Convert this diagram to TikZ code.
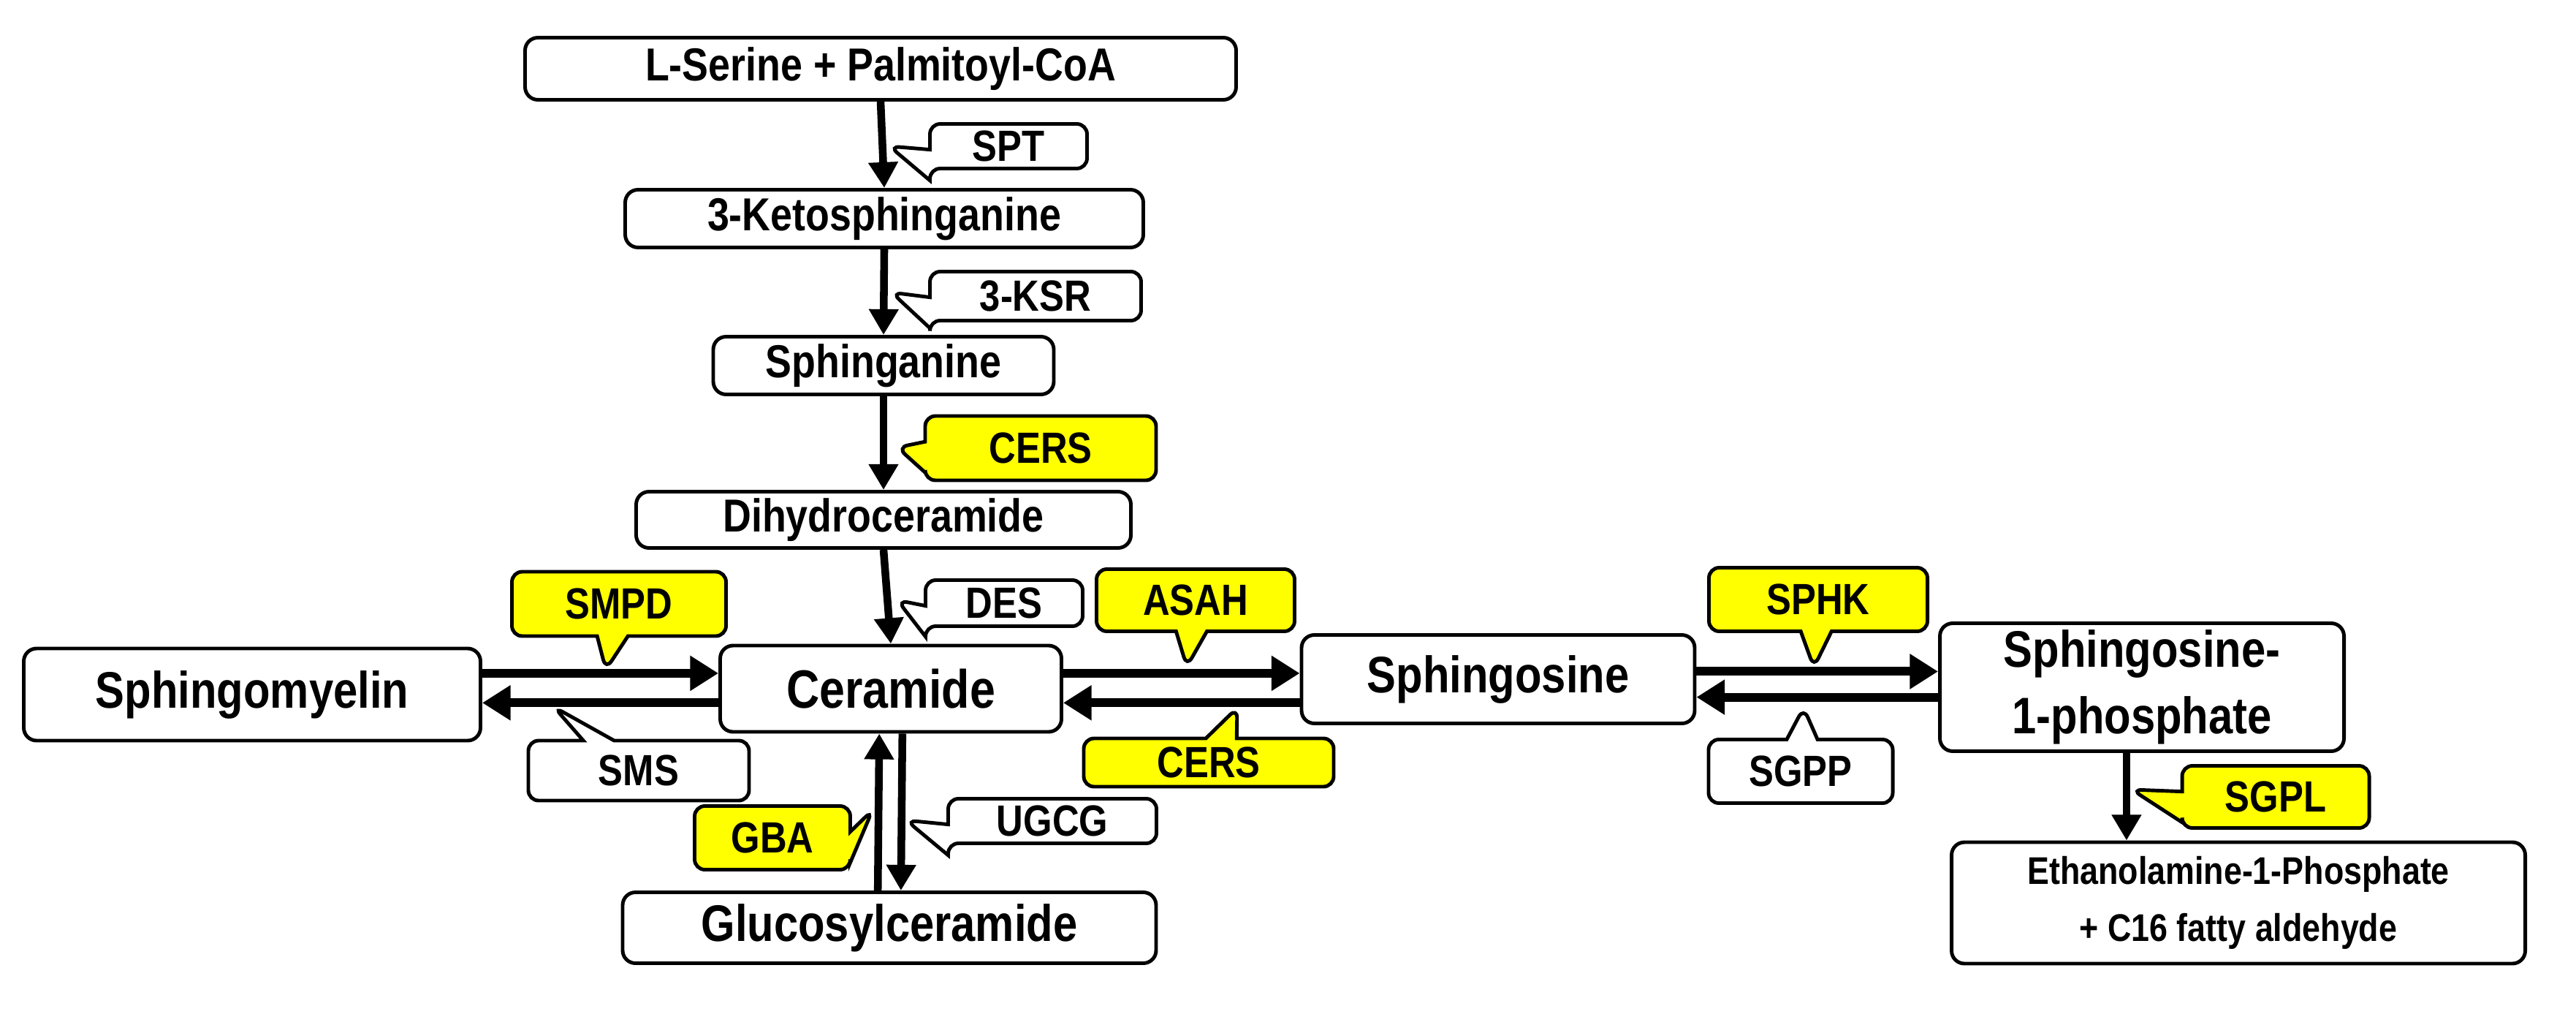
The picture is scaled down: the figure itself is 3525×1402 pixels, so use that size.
\documentclass[tikz,border=0pt]{standalone}
\usepackage{fontspec}
\setmainfont{Liberation Sans}[FakeStretch=0.85]
\usetikzlibrary{shapes.callouts,arrows.meta}
\definecolor{yel}{RGB}{255,255,0}
\begin{document}
\begin{tikzpicture}[x=0.1mm,y=-0.1mm,
  box/.style n args={2}{draw,line width=1.4pt,rounded corners=5pt,fill=white,inner sep=0pt,align=center,
     minimum width=#1*0.1mm,minimum height=#2*0.1mm,font=\bfseries\fontsize{18}{24}\selectfont},
  big/.style={font=\bfseries\fontsize{21}{25}\selectfont},
  enz/.style n args={3}{rectangle callout,draw,line width=1.4pt,rounded corners=4pt,fill=white,inner sep=0pt,
     minimum width=#1*0.1mm,minimum height=#2*0.1mm,callout absolute pointer={#3},callout pointer width=12pt,
     font=\bfseries\fontsize{17}{20}\selectfont},
  ye/.style={fill=yel},
  arr/.style={line width=3.4pt,-{Triangle[length=11pt,width=13pt]}},
  varr/.style={line width=3pt,-{Triangle[length=10pt,width=11pt]}}]
\useasboundingbox (0,0) rectangle (3525,1402);
% metabolites
\node[box={973}{85}] (ser) at (1205,94) {L-Serine + Palmitoyl-CoA};
\node[box={709}{79}] (keto) at (1210,299) {3-Ketosphinganine};
\node[box={466}{79}] (sphn) at (1209,500) {Sphinganine};
\node[box={677}{77}] (dihy) at (1209,711) {Dihydroceramide};
\node[box={625}{126},font=\bfseries\fontsize{20}{24}\selectfont] (sm) at (345,950) {Sphingomyelin};
\node[box={467}{118},big] (cer) at (1219,942) {Ceramide};
\node[box={730}{97},font=\bfseries\fontsize{20}{24}\selectfont] (glc) at (1217,1269) {Glucosylceramide};
\node[box={538}{121},font=\bfseries\fontsize{20}{24}\selectfont] (sph) at (2050,929) {Sphingosine};
\node[box={553}{175},font=\bfseries\fontsize{20}{26}\selectfont] (s1p) at (2931,940) {Sphingosine-\\1-phosphate};
\node[box={785}{166},font=\bfseries\fontsize{15}{22}\selectfont] (eth) at (3063,1235) {Ethanolamine-1-Phosphate\\+ C16 fatty aldehyde};
% vertical arrows
\draw[varr] (ser.south) -- (keto.north);
\draw[varr] (keto.south) -- (sphn.north);
\draw[varr] (sphn.south) -- (dihy.north);
\draw[varr] (dihy.south) -- (cer.north);
\draw[varr] ([xshift=-4.5pt]glc.north) -- ([xshift=-4.5pt]cer.south);
\draw[varr] ([xshift=4.5pt]cer.south) -- ([xshift=4.5pt]glc.north);
\draw[varr] ([xshift=-6pt]s1p.south) -- ([xshift=-6pt]s1p.south |- eth.north);
% horizontal arrows
\coordinate (ct) at ([yshift=6pt]cer.west);
\coordinate (cb) at ([yshift=-5.5pt]cer.west);
\draw[arr] (sm.east |- ct) -- (ct);
\draw[arr] (cb) -- (sm.east |- cb);
\coordinate (et) at ([yshift=6pt]cer.east);
\coordinate (eb) at ([yshift=-5.5pt]cer.east);
\draw[arr] (et) -- (sph.west |- et);
\draw[arr] (sph.west |- eb) -- (eb);
\coordinate (st) at ([yshift=3pt]sph.east);
\coordinate (sb) at ([yshift=-7pt]sph.east);
\draw[arr] (st) -- (s1p.west |- st);
\draw[arr] (s1p.west |- sb) -- (sb);
% enzymes
\node[enz={215}{61}{(1217,200)}] (spt) at (1380,200) {SPT};
\node[enz={289}{67}{(1220,400)}] (ksr) at (1417,405) {3-KSR};
\node[enz={316}{88}{(1228,612)},ye] (cers1) at (1424,613) {CERS};
\node[enz={215}{63}{(1228,821)}] (des) at (1374,825) {DES};
\node[enz={293}{88}{(829,916)},ye] (smpd) at (847,826) {SMPD};
\node[enz={271}{85}{(1624,912)},ye] (asah) at (1636,821) {ASAH};
\node[enz={302}{82}{(758,967)}] (sms) at (874,1054) {SMS};
\node[enz={342}{66}{(1693,968)},ye] (cers2) at (1654,1043) {CERS};
\node[enz={213}{87}{(1194,1108)},ye] (gba) at (1057,1146) {GBA};
\node[enz={285}{61}{(1240,1122)}] (ugcg) at (1440,1123) {UGCG};
\node[enz={299}{87}{(2482,913)},ye] (sphk) at (2488,820) {SPHK};
\node[enz={252}{87}{(2468,968)}] (sgpp) at (2464,1055) {SGPP};
\node[enz={256}{85}{(2917,1080)},ye] (sgpl) at (3114,1090) {SGPL};
\end{tikzpicture}
\end{document}
